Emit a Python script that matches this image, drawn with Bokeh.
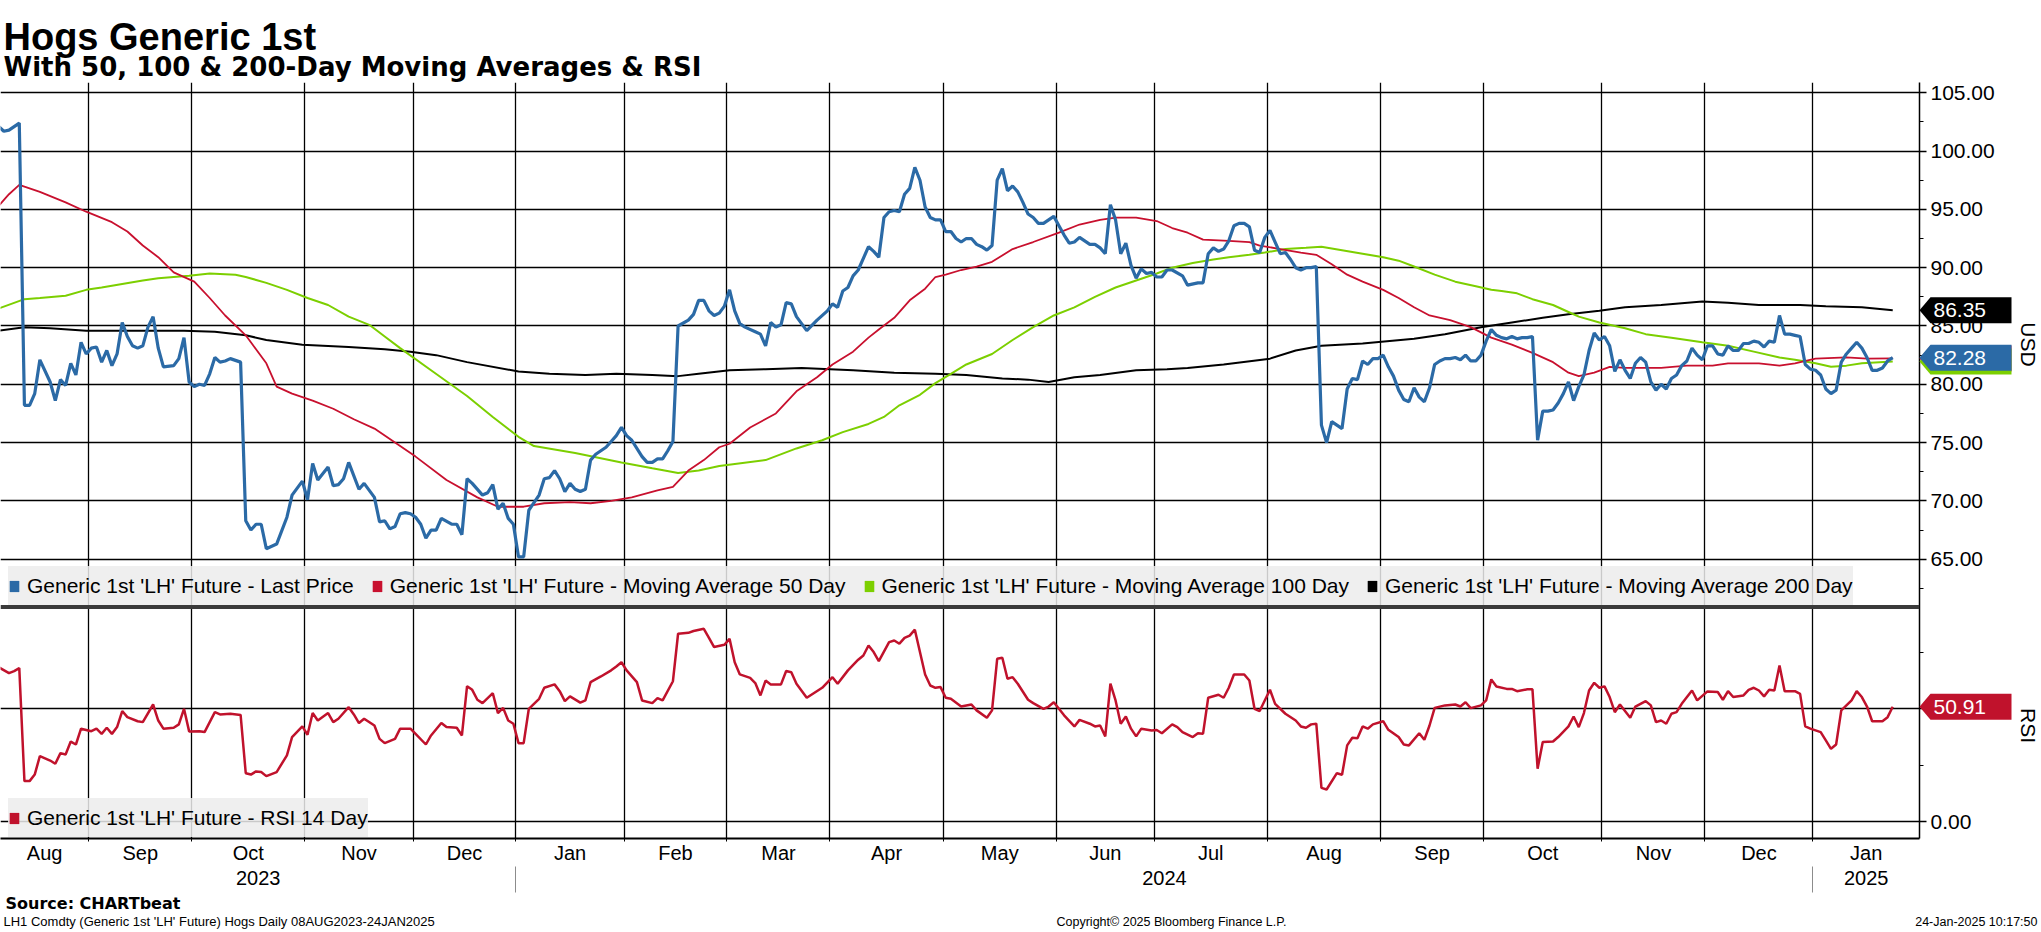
import math
import pandas as pd
from bokeh.plotting import figure
from bokeh.models import (Range1d, LinearAxis, FixedTicker, NumeralTickFormatter,
                          Legend, LegendItem, Label, Span)
from bokeh.embed import file_html
from bokeh.resources import INLINE

# trading calendar, 08AUG2023 - 24JAN2025 (CME livestock holidays)
holidays = ["2023-09-04", "2023-11-23", "2023-12-25", "2024-01-01", "2024-01-15",
            "2024-02-19", "2024-03-29", "2024-05-27", "2024-06-19", "2024-07-04",
            "2024-09-02", "2024-11-28", "2024-12-25", "2025-01-01", "2025-01-20"]
dates = pd.bdate_range("2023-08-08", "2025-01-24", freq="C", holidays=holidays)

# Last price (trading day index, USD)
price_day = [0, 1, 2, 3, 4, 5, 6, 7, 8, 10,
             11, 12, 13, 14, 15, 16, 17, 18, 19, 20,
             21, 22, 23, 24, 25, 26, 27, 28, 29, 30,
             31, 32, 34, 35, 36, 37, 38, 39, 40, 41,
             42, 43, 44, 45, 47, 48, 49, 50, 51, 52,
             54, 56, 57, 59, 60, 61, 62, 64, 65, 66,
             67, 68, 70, 71, 73, 74, 75, 76, 77, 78,
             79, 80, 81, 82, 83, 84, 85, 86, 88, 89,
             90, 91, 92, 94, 95, 96, 97, 98, 99, 100,
             101, 102, 103, 105, 106, 107, 108, 109, 110, 111,
             112, 113, 114, 115, 116, 118, 119, 120, 121, 122,
             123, 125, 126, 127, 128, 129, 130, 131, 132, 134,
             135, 136, 137, 138, 139, 140, 141, 142, 143, 144,
             145, 147, 148, 149, 150, 151, 152, 153, 154, 155,
             156, 157, 159, 161, 162, 163, 164, 165, 166, 167,
             168, 169, 170, 171, 172, 173, 174, 175, 176, 177,
             178, 179, 180, 181, 182, 183, 184, 185, 186, 187,
             188, 189, 190, 191, 192, 193, 194, 195, 196, 197,
             198, 199, 200, 201, 202, 203, 204, 205, 206, 207,
             208, 209, 210, 211, 212, 213, 214, 215, 216, 217,
             218, 219, 220, 221, 222, 223, 224, 225, 226, 227,
             228, 230, 231, 233, 234, 235, 236, 237, 238, 239,
             240, 241, 242, 243, 244, 245, 246, 247, 248, 249,
             250, 251, 252, 253, 254, 255, 256, 257, 258, 259,
             260, 261, 262, 263, 264, 265, 266, 267, 268, 269,
             270, 271, 272, 273, 274, 275, 276, 277, 278, 279,
             280, 281, 282, 283, 284, 285, 286, 287, 288, 289,
             290, 291, 292, 293, 294, 295, 296, 297, 298, 299,
             300, 301, 302, 303, 304, 305, 306, 307, 308, 309,
             310, 311, 312, 313, 314, 315, 316, 317, 318, 319,
             320, 321, 322, 323, 324, 325, 326, 327, 328, 329,
             330, 331, 332, 333, 334, 335, 336, 337, 338, 339,
             340, 341, 342, 343, 344, 345, 346, 347, 348, 349,
             350, 351, 352, 353, 354, 355, 356, 357, 358, 359,
             360, 361, 362, 363, 364, 365, 366, 367, 368]
price_val = [102.1, 101.7, 101.8, 102.1, 102.4, 78.2, 78.2, 79.2, 82.1, 80.2,
             78.6, 80.4, 79.9, 81.8, 80.8, 83.6, 82.6, 83.1, 83.2, 81.9,
             82.9, 81.6, 82.6, 85.3, 84.1, 83.3, 83.1, 83.3, 84.9, 85.8,
             83.1, 81.5, 81.6, 82.2, 84.0, 80.2, 79.8, 80.0, 79.9, 80.9,
             82.3, 81.9, 82.0, 82.2, 81.9, 68.3, 67.5, 68.0, 68.0, 65.9,
             66.3, 68.6, 70.5, 71.7, 70.1, 73.2, 71.8, 72.9, 71.3, 71.4,
             71.9, 73.3, 71.0, 71.5, 70.3, 68.2, 68.3, 67.6, 67.8, 68.9,
             69.0, 68.9, 68.6, 68.0, 66.8, 67.5, 67.5, 68.5, 68.0, 68.0,
             67.1, 71.9, 71.5, 70.5, 70.7, 71.4, 69.3, 69.8, 68.5, 68.0,
             65.2, 65.2, 69.2, 70.5, 71.9, 72.0, 72.6, 71.9, 70.8, 71.5,
             71.0, 70.8, 71.0, 73.5, 74.0, 74.6, 75.1, 75.6, 76.3, 75.6,
             75.2, 73.8, 73.3, 73.3, 73.6, 73.6, 74.3, 75.1, 85.0, 85.5,
             86.0, 87.2, 87.2, 86.3, 85.9, 86.1, 86.7, 88.1, 86.3, 85.2,
             84.9, 84.5, 84.3, 83.3, 85.3, 84.9, 85.1, 87.0, 86.9, 85.8,
             85.2, 84.6, 85.5, 86.3, 86.9, 86.6, 88.0, 88.3, 89.3, 89.8,
             90.8, 91.8, 91.4, 90.9, 94.3, 94.8, 94.9, 94.8, 96.3, 96.8,
             98.6, 97.5, 95.2, 94.3, 94.1, 94.1, 93.1, 93.1, 92.5, 92.2,
             92.5, 92.5, 92.0, 91.8, 91.5, 91.9, 97.5, 98.5, 96.6, 97.0,
             96.5, 95.6, 94.6, 94.3, 93.8, 93.8, 94.1, 94.4, 93.6, 92.8,
             92.1, 92.2, 92.6, 92.3, 92.0, 92.0, 91.7, 91.2, 95.4, 94.1,
             91.2, 92.1, 90.2, 89.1, 89.9, 89.5, 89.6, 89.2, 89.2, 89.8,
             89.8, 89.3, 88.5, 88.7, 88.7, 91.2, 91.7, 91.4, 91.6, 92.3,
             93.6, 93.8, 93.8, 93.5, 91.5, 91.3, 92.6, 93.2, 92.2, 91.2,
             91.3, 90.7, 90.0, 89.8, 90.0, 90.0, 90.1, 76.5, 75.0, 76.8,
             76.5, 76.2, 79.6, 80.5, 80.4, 82.0, 81.7, 82.2, 82.2, 82.5,
             81.5, 80.7, 79.5, 78.7, 78.5, 79.7, 78.9, 78.5, 79.7, 81.7,
             82.0, 82.2, 82.2, 82.3, 82.1, 82.5, 82.0, 82.0, 82.5, 83.7,
             84.7, 84.2, 84.0, 83.9, 84.1, 83.9, 84.0, 84.0, 84.1, 75.2,
             77.7, 77.7, 77.8, 78.4, 79.2, 80.2, 78.6, 79.8, 80.8, 82.9,
             84.4, 83.8, 84.1, 83.3, 81.1, 82.1, 81.2, 80.5, 81.8, 82.3,
             81.9, 80.2, 79.5, 80.0, 79.6, 80.5, 80.8, 81.6, 82.0, 83.1,
             82.5, 82.1, 83.3, 83.3, 82.6, 82.5, 83.3, 82.9, 82.9, 83.5,
             83.5, 83.7, 83.6, 83.2, 83.7, 83.6, 85.9, 84.3, 84.3, 84.2,
             84.1, 81.7, 81.3, 81.2, 80.8, 79.6, 79.2, 79.5, 81.9, 82.6,
             83.1, 83.6, 83.1, 82.3, 81.2, 81.2, 81.4, 82.0, 82.28]

# Moving averages (trading day index, USD)
ma50_day = [0, 2, 4, 8, 13, 17, 22, 25, 28, 31,
            34, 38, 41, 44, 48, 52, 54, 57, 61, 65,
            69, 73, 77, 81, 87, 93, 97, 102, 106, 111,
            115, 119, 123, 128, 131, 134, 137, 140, 142, 146,
            151, 155, 159, 162, 166, 169, 171, 174, 177, 180,
            182, 184, 187, 190, 193, 197, 201, 206, 210, 214,
            217, 221, 225, 228, 231, 234, 239, 243, 245, 249,
            253, 256, 259, 262, 265, 269, 272, 275, 278, 282,
            286, 290, 294, 298, 302, 305, 307, 310, 313, 316,
            323, 328, 333, 336, 342, 346, 349, 353, 359, 363, 368]
ma50_val = [95.3, 96.3, 97.1, 96.5, 95.6, 94.8, 93.9, 93.1, 91.9, 90.9,
            89.6, 88.8, 87.4, 85.9, 84.2, 81.8, 79.8, 79.2, 78.6, 77.9,
            77.0, 76.2, 75.0, 73.8, 71.8, 70.3, 69.5, 69.5, 69.8, 69.9,
            69.8, 70.0, 70.3, 70.9, 71.2, 72.6, 73.5, 74.6, 74.9, 76.3,
            77.5, 79.4, 80.6, 81.7, 82.8, 84.0, 84.7, 85.7, 87.2, 88.2,
            89.2, 89.4, 89.8, 90.1, 90.5, 91.6, 92.2, 93.0, 93.7, 94.1,
            94.3, 94.3, 94.0, 93.4, 93.0, 92.4, 92.3, 92.2, 91.9, 91.6,
            91.3, 91.1, 90.3, 89.4, 88.8, 88.1, 87.4, 86.6, 85.9, 85.5,
            84.9, 84.0, 83.4, 82.7, 81.9, 81.0, 80.7, 81.0, 81.5, 81.4,
            81.4, 81.6, 81.6, 81.8, 81.8, 81.6, 81.8, 82.2, 82.3, 82.2, 82.22]

ma100_day = [0, 5, 8, 13, 17, 20, 24, 28, 31, 37,
             41, 46, 48, 52, 56, 60, 64, 68, 72, 75,
             78, 84, 91, 96, 101, 104, 112, 121, 127, 132,
             136, 140, 149, 155, 160, 164, 169, 172, 175, 179,
             182, 185, 188, 193, 197, 201, 205, 209, 213, 217,
             221, 225, 228, 232, 236, 239, 243, 246, 250, 254,
             257, 261, 265, 269, 272, 275, 279, 283, 287, 290,
             292, 295, 298, 302, 305, 307, 311, 316, 320, 325,
             331, 336, 341, 346, 349, 353, 356, 359, 362, 368]
ma100_val = [86.5, 87.3, 87.4, 87.6, 88.1, 88.3, 88.6, 88.9, 89.1, 89.3,
             89.5, 89.4, 89.2, 88.7, 88.1, 87.4, 86.8, 85.8, 85.1, 84.1,
             83.1, 81.2, 79.0, 77.2, 75.5, 74.7, 74.1, 73.3, 72.8, 72.4,
             72.6, 73.0, 73.5, 74.5, 75.2, 75.9, 76.6, 77.2, 78.2, 79.1,
             80.1, 80.9, 81.7, 82.6, 83.8, 84.9, 85.9, 86.6, 87.5, 88.3,
             88.9, 89.5, 90.0, 90.4, 90.7, 90.9, 91.1, 91.3, 91.6, 91.7,
             91.8, 91.5, 91.2, 90.9, 90.6, 90.1, 89.4, 88.8, 88.4, 88.1,
             88.0, 87.8, 87.3, 86.8, 86.2, 85.8, 85.3, 84.8, 84.3, 84.0,
             83.6, 83.3, 82.8, 82.3, 82.1, 81.8, 81.5, 81.6, 81.8, 81.95]

ma200_day = [0, 5, 10, 17, 26, 36, 42, 48, 52, 59,
             68, 75, 80, 85, 91, 101, 107, 114, 120, 127,
             132, 136, 142, 149, 156, 166, 174, 182, 188, 195,
             200, 204, 209, 214, 221, 227, 231, 238, 247, 252,
             257, 265, 275, 281, 288, 294, 300, 305, 311, 316,
             323, 331, 336, 342, 350, 355, 362, 368]
ma200_val = [84.6, 84.9, 84.8, 84.6, 84.6, 84.6, 84.5, 84.2, 83.8, 83.4,
             83.2, 83.0, 82.8, 82.5, 81.9, 81.1, 80.9, 80.8, 80.9, 80.8,
             80.7, 80.9, 81.2, 81.3, 81.4, 81.2, 81.0, 80.9, 80.8, 80.5,
             80.4, 80.2, 80.6, 80.8, 81.2, 81.3, 81.4, 81.7, 82.2, 82.9,
             83.3, 83.5, 83.9, 84.3, 84.9, 85.3, 85.7, 86.0, 86.3, 86.6,
             86.8, 87.1, 87.0, 86.8, 86.8, 86.7, 86.6, 86.35]

# RSI 14 day
rsi_day = [0, 2, 3, 4, 5, 6, 7, 8, 10, 11,
           12, 13, 14, 15, 16, 18, 19, 20, 21, 22,
           23, 24, 25, 27, 28, 30, 31, 32, 34, 35,
           36, 37, 39, 40, 42, 43, 45, 47, 48, 49,
           50, 51, 52, 54, 56, 57, 59, 60, 61, 62,
           64, 65, 66, 68, 69, 70, 71, 73, 74, 75,
           77, 78, 80, 81, 83, 84, 86, 87, 89, 90,
           91, 92, 93, 94, 96, 97, 98, 99, 100, 101,
           102, 103, 105, 106, 108, 109, 110, 111, 113, 114,
           115, 117, 119, 120, 121, 122, 124, 125, 127, 128,
           129, 131, 132, 134, 135, 137, 138, 139, 141, 142,
           143, 144, 146, 147, 148, 149, 150, 152, 153, 154,
           155, 157, 160, 162, 163, 165, 167, 168, 169, 170,
           171, 173, 174, 175, 176, 177, 178, 180, 181, 182,
           183, 184, 185, 187, 189, 190, 192, 193, 194, 195,
           196, 197, 198, 200, 201, 203, 204, 205, 207, 209,
           210, 212, 213, 214, 215, 216, 217, 218, 219, 220,
           221, 222, 224, 225, 226, 228, 229, 230, 232, 233,
           234, 235, 237, 238, 239, 240, 242, 243, 244, 245,
           247, 248, 250, 252, 253, 254, 255, 256, 257, 258,
           260, 261, 262, 263, 264, 265, 266, 267, 269, 270,
           272, 273, 274, 276, 277, 278, 279, 281, 283, 284,
           285, 286, 288, 289, 290, 291, 293, 294, 295, 297,
           298, 299, 300, 302, 303, 305, 306, 307, 308, 309,
           310, 311, 312, 313, 314, 315, 317, 318, 320, 321,
           322, 323, 324, 325, 326, 327, 329, 330, 332, 334,
           335, 336, 337, 339, 340, 341, 342, 343, 344, 345,
           346, 347, 349, 350, 351, 352, 354, 355, 356, 357,
           358, 360, 361, 362, 363, 364, 366, 367, 368]
rsi_val = [68.4, 65.8, 66.7, 68.0, 18.0, 18.0, 20.9, 29.1, 27.1, 25.7,
           30.4, 29.8, 35.5, 34.2, 41.2, 40.1, 41.2, 38.9, 41.6, 38.9,
           41.9, 49.0, 46.3, 44.5, 44.1, 51.9, 44.8, 41.2, 41.6, 43.1,
           50.0, 40.0, 40.1, 39.7, 48.5, 47.5, 47.8, 47.3, 21.5, 20.9,
           22.3, 22.0, 20.2, 22.0, 29.4, 37.5, 42.2, 38.5, 48.1, 44.8,
           48.1, 44.1, 45.6, 50.7, 47.5, 43.7, 45.6, 42.6, 36.7, 34.8,
           36.7, 41.2, 41.2, 38.9, 34.2, 38.2, 43.7, 41.9, 41.6, 38.2,
           60.0, 58.4, 54.0, 52.5, 56.9, 48.1, 50.4, 44.8, 43.4, 34.8,
           34.8, 50.0, 54.4, 59.3, 60.8, 57.8, 53.4, 55.5, 52.7, 53.7,
           61.8, 64.3, 67.0, 68.7, 70.6, 67.0, 61.8, 53.7, 52.5, 54.7,
           53.7, 62.2, 83.2, 83.6, 84.4, 85.4, 81.4, 77.3, 78.3, 81.0,
           70.6, 65.2, 63.7, 61.4, 55.9, 62.5, 60.8, 60.8, 66.7, 66.2,
           61.1, 54.9, 59.3, 64.0, 61.1, 67.0, 71.7, 73.6, 78.0, 75.1,
           71.1, 79.5, 80.2, 78.8, 81.4, 82.4, 85.0, 65.2, 60.3, 59.3,
           59.6, 54.9, 54.4, 51.0, 51.9, 49.3, 46.0, 49.3, 72.1, 72.6,
           63.3, 64.0, 61.1, 54.0, 52.5, 50.0, 51.0, 52.9, 47.1, 42.2,
           45.1, 43.4, 42.2, 42.6, 37.8, 61.1, 53.7, 43.4, 46.6, 41.2,
           37.8, 41.2, 40.4, 40.6, 39.2, 43.1, 41.9, 39.7, 37.5, 39.2,
           39.0, 54.9, 56.2, 54.9, 59.3, 65.2, 65.2, 62.5, 50.0, 49.0,
           58.4, 52.2, 47.8, 44.8, 42.2, 41.6, 43.1, 43.4, 15.0, 14.3,
           21.5, 20.8, 33.8, 37.2, 37.0, 42.2, 41.2, 43.1, 44.5, 40.7,
           37.5, 34.2, 33.8, 39.2, 36.3, 42.6, 50.4, 51.5, 51.9, 51.0,
           52.9, 50.3, 51.5, 53.7, 63.0, 59.9, 58.8, 58.8, 57.8, 58.6,
           58.6, 23.5, 35.3, 35.5, 37.5, 42.2, 46.6, 41.9, 48.1, 58.1,
           61.5, 59.3, 59.9, 55.2, 48.5, 51.9, 46.0, 51.0, 53.4, 51.5,
           44.1, 44.8, 43.4, 47.8, 48.5, 52.2, 58.1, 53.7, 57.7, 57.4,
           54.0, 57.8, 55.2, 55.9, 58.4, 59.3, 58.1, 55.5, 58.4, 58.1,
           69.2, 57.8, 57.8, 56.6, 42.2, 41.2, 39.7, 36.0, 32.3, 34.2,
           49.3, 53.7, 57.8, 55.2, 51.0, 44.5, 44.5, 46.3, 50.91]

price_ticks = [65, 70, 75, 80, 85, 90, 95, 100, 105]
price_minor = [62.5, 67.5, 72.5, 77.5, 82.5, 87.5, 92.5, 97.5, 102.5]
rsi_ticks = [0, 50]
rsi_minor = [25, 75]

series_names = ["Generic 1st 'LH' Future - Last Price",
                "Generic 1st 'LH' Future - Moving Average 50 Day",
                "Generic 1st 'LH' Future - Moving Average 100 Day",
                "Generic 1st 'LH' Future - Moving Average 200 Day"]
rsi_name = "Generic 1st 'LH' Future - RSI 14 Day"

BLUE, RED, GREEN, RSI_RED = "#2b6aa6", "#c8102e", "#7ccf00", "#c0122c"
FONT = "Liberation Sans"
W, H = 2041, 932

# month / year positions on the trading-day axis
X0, X1 = 0.35, 373.2
mon = dates.to_period("M")
starts = [i for i in range(1, len(dates)) if mon[i] != mon[i - 1]]
bounds = [i - 0.5 for i in starts]
edges = [X0] + bounds + [X1]
month_mid = [(a + b) / 2 for a, b in zip(edges[:-1], edges[1:])]
month_lbl = [dates[0].strftime("%b")] + [dates[i].strftime("%b") for i in starts]
ybounds = [b for b, i in zip(bounds, starts) if dates[i].month == 1]
yedges = [X0] + ybounds + [X1]
year_mid = [(a + b) / 2 for a, b in zip(yedges[:-1], yedges[1:])]
year_lbl = [str(dates[0].year)] + [str(dates[starts[bounds.index(b)]].year) for b in ybounds]

# y ranges: price panel on top, RSI panel below, sharing one frame (rows 82..838)
P0, P1 = 41.05, 105.88
R0, R1 = -7.39, 327.1
TOP, BOT = 82, 838


def rsi_to_price(v):
    return P0 + (v - R0) * (P1 - P0) / (R1 - R0)


def page_y(y):
    return P1 - (y - TOP) * (P1 - P0) / (BOT - TOP)


def page_rsi(y):
    return R1 - (y - TOP) * (R1 - R0) / (BOT - TOP)


p = figure(width=W, height=H, x_range=Range1d(X0, X1), y_range=Range1d(P0, P1),
           y_axis_location="right", output_backend="svg", toolbar_location=None,
           min_border_left=0, min_border_right=W - 1919, min_border_top=TOP,
           min_border_bottom=H - BOT)
p.extra_y_ranges = {"rsi": Range1d(R0, R1)}
p.outline_line_color = None

# right axis: price ticks plus RSI ticks mapped into the lower panel
r_ticks = [rsi_to_price(v) for v in rsi_ticks]
yax = p.yaxis[0]
yax.ticker = FixedTicker(ticks=r_ticks + price_ticks,
                         minor_ticks=[rsi_to_price(v) for v in rsi_minor] + price_minor)
yax.formatter = NumeralTickFormatter(format="0.00")
yax.major_label_overrides = {r_ticks[0]: "0.00", r_ticks[1]: ""}
yax.major_label_text_font = FONT
yax.major_label_text_font_size = "21px"
yax.major_label_text_color = "black"
yax.major_label_standoff = 4
yax.major_tick_in = 0
yax.major_tick_out = 7
yax.minor_tick_in = 0
yax.minor_tick_out = 4
yax.axis_line_width = 1.5
yax.major_tick_line_width = 1.5

xax = p.xaxis[0]
xax.ticker = FixedTicker(ticks=bounds)
xax.major_label_overrides = {b: "" for b in bounds}
xax.major_label_text_font_size = "1px"
xax.major_label_standoff = 0
xax.major_tick_in = 3
xax.major_tick_out = 3
xax.axis_line_width = 2

max_ = LinearAxis(ticker=FixedTicker(ticks=month_mid),
                  major_label_overrides=dict(zip(month_mid, month_lbl)),
                  axis_line_color=None, major_tick_line_color=None,
                  major_tick_in=0, major_tick_out=0, major_label_standoff=0,
                  major_label_text_font=FONT, major_label_text_font_size="20px",
                  major_label_text_color="black")
p.add_layout(max_, "below")
yrax = LinearAxis(ticker=FixedTicker(ticks=year_mid, minor_ticks=ybounds),
                  major_label_overrides=dict(zip(year_mid, year_lbl)),
                  axis_line_color=None, major_tick_line_color=None,
                  major_tick_in=0, major_tick_out=0, major_label_standoff=-22,
                  minor_tick_in=0, minor_tick_out=26, minor_tick_line_color="#8c8c8c",
                  major_label_text_font=FONT, major_label_text_font_size="20px",
                  major_label_text_color="black")
p.add_layout(yrax, "below")

p.xgrid.ticker = FixedTicker(ticks=bounds)
p.xgrid.grid_line_color = "black"
p.xgrid.grid_line_width = 1.3
p.ygrid.grid_line_color = "black"
p.ygrid.grid_line_width = 1.5

# panel separator
p.add_layout(Span(location=page_y(606.5), dimension="width", line_color="#3a3a3a", line_width=4))

p.line(ma200_day, ma200_val, line_color="black", line_width=2)
p.line(ma100_day, ma100_val, line_color=GREEN, line_width=2)
p.line(ma50_day, ma50_val, line_color=RED, line_width=1.8)
p.line(price_day, price_val, line_color=BLUE, line_width=3.2)
p.line(rsi_day, rsi_val, line_color=RSI_RED, line_width=2.5, y_range_name="rsi")

# legend swatches: zero-size quads on each series' last point
swatches = []
for d, v, c, rng in [(price_day, price_val, BLUE, "default"), (ma50_day, ma50_val, RED, "default"),
                     (ma100_day, ma100_val, GREEN, "default"), (ma200_day, ma200_val, "black", "default"),
                     (rsi_day, rsi_val, RSI_RED, "rsi")]:
    swatches.append(p.quad(left=[d[-1]], right=[d[-1]], top=[v[-1]], bottom=[v[-1]],
                           fill_color=c, line_color=None, y_range_name=rng))


def make_legend(items, loc):
    lg = Legend(items=items, location=loc, orientation="horizontal",
                label_text_font=FONT, label_text_font_size="21px", label_height=39,
                label_text_color="black",
                glyph_width=12, glyph_height=14, label_standoff=7, spacing=17,
                padding=10, margin=0, border_line_color=None,
                background_fill_color="#ececec", background_fill_alpha=0.85)
    p.add_layout(lg)


make_legend([LegendItem(label=n, renderers=[r]) for n, r in zip(series_names, swatches[:4])], (8, 233))
make_legend([LegendItem(label=rsi_name, renderers=[swatches[4]])], (8, 1))

# transparent overlay figure (a second root laid over the first) holding the
# texts and value flags that sit outside the plot frame
ov = figure(width=W, height=H, x_range=Range1d(0, W), y_range=Range1d(page_y(H), page_y(0)),
            x_axis_location=None, y_axis_location=None, output_backend="svg",
            toolbar_location=None, min_border=0, background_fill_color=None,
            border_fill_color=None, outline_line_color=None,
            styles={"position": "absolute", "top": "0px", "left": "0px"})
ov.extra_y_ranges = {"rsi": Range1d(page_rsi(H), page_rsi(0))}
ov.grid.visible = False

# last-value flags: arrow-shaped tags pointing at the axis; half height 13 px
half_p = 13 * (P1 - P0) / (BOT - TOP)
half_r = 13 * (R1 - R0) / (BOT - TOP)
flags = [(ma200_val[-1], "black", "default", True), (ma50_val[-1], RED, "default", False),
         (ma100_val[-1], GREEN, "default", False), (price_val[-1], BLUE, "default", True),
         (rsi_val[-1], RSI_RED, "rsi", True)]
for v, c, rng, show in flags:
    h = half_r if rng == "rsi" else half_p
    ov.patch(x=[1919, 1930, 2011, 2011, 1930], y=[v, v + h, v + h, v - h, v - h],
             fill_color=c, line_color=None, y_range_name=rng)
    if show:
        ov.add_layout(Label(x=1933, y=v, y_range_name=rng, text="%.2f" % v,
                            text_font=FONT, text_font_size="21px", text_color="white",
                            text_baseline="middle"))

for txt, yy in [("USD", 344), ("RSI", 725)]:
    ov.add_layout(Label(x=2028, y=page_y(yy), text=txt, angle=-math.pi / 2,
                        text_font=FONT, text_font_size="21px", text_align="center",
                        text_baseline="middle", text_color="black"))

ov.add_layout(Label(x=3, y=page_y(36.7), text="Hogs Generic 1st",
                    text_font=FONT, text_font_style="bold", text_font_size="38px",
                    text_baseline="alphabetic", text_color="black"))
ov.add_layout(Label(x=3, y=page_y(66.5), text="With 50, 100 & 200-Day Moving Averages & RSI",
                    text_font="DejaVu Sans", text_font_style="bold", text_font_size="26px",
                    text_baseline="alphabetic", text_color="black"))
ov.add_layout(Label(x=5, y=page_y(903), text="Source: CHARTbeat",
                    text_font="DejaVu Sans", text_font_style="bold", text_font_size="16px",
                    text_baseline="alphabetic", text_color="black"))
ov.add_layout(Label(x=3, y=page_y(921), text="LH1 Comdty (Generic 1st 'LH' Future) Hogs  Daily 08AUG2023-24JAN2025",
                    text_font=FONT, text_font_size="13px", text_baseline="alphabetic",
                    text_color="black"))
ov.add_layout(Label(x=1171, y=page_y(921), text="Copyright\u00a9 2025 Bloomberg Finance L.P.",
                    text_align="center", text_font=FONT, text_font_size="12.5px",
                    text_baseline="alphabetic", text_color="black"))
ov.add_layout(Label(x=2037, y=page_y(921), text="24-Jan-2025 10:17:50", text_align="right",
                    text_font=FONT, text_font_size="12.5px", text_baseline="alphabetic",
                    text_color="black"))

open("out.html", "w").write(file_html([p, ov], INLINE))
